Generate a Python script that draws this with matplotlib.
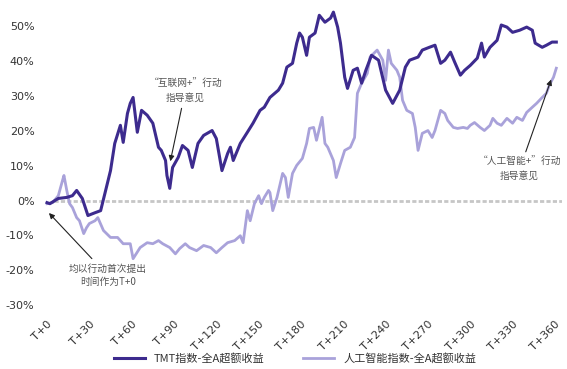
import matplotlib
matplotlib.use("Agg")
import matplotlib.pyplot as plt

plt.rcParams['font.family'] = ['Noto Sans CJK SC', 'DejaVu Sans']

# ---- data (days after T+0, excess return %) ----
tmt_days = [0, 2, 8, 14, 18, 21, 25, 29, 34, 38, 41, 45, 48, 52, 54, 57, 59, 61, 64, 67,
            71, 75, 79, 81, 84, 85, 87, 89, 93, 96, 100, 103, 107, 111, 117, 120, 124, 128,
            130, 132, 137, 142, 146, 151, 154, 158, 164, 167, 170, 174, 177, 179, 181, 184,
            186, 190, 193, 197, 201, 203, 206, 208, 211, 213, 217, 220, 223, 226, 230, 235,
            240, 245, 250, 254, 257, 263, 266, 271, 275, 279, 282, 286, 289, 293, 296, 300,
            305, 308, 310, 314, 319, 322, 326, 330, 335, 340, 344, 346, 351, 354, 358, 361]
tmt_vals = [-0.6, -0.9, 0.6, 0.9, 1.4, 2.9, 0.6, -4.3, -3.5, -2.9, 2.0, 8.6, 16.4, 21.6, 16.7,
            25.0, 27.9, 29.6, 19.6, 25.9, 24.5, 22.2, 15.3, 14.4, 11.5, 7.2, 3.5, 9.5, 12.4,
            15.8, 14.4, 9.5, 16.4, 18.7, 20.1, 17.8, 8.6, 13.5, 15.3, 11.5, 16.4, 19.6, 22.2,
            25.9, 26.8, 29.6, 31.7, 33.7, 38.3, 39.4, 45.2, 48.1, 46.9, 41.7, 46.9, 48.1, 53.2,
            51.2, 52.4, 54.1, 49.8, 45.2, 35.4, 32.2, 37.4, 38.0, 33.7, 37.4, 41.7, 40.3, 31.7,
            27.9, 31.7, 38.3, 40.3, 41.2, 43.2, 44.0, 44.6, 39.4, 40.3, 42.6, 39.7, 36.0, 37.4,
            38.8, 40.9, 45.2, 41.2, 44.0, 46.0, 50.4, 49.8, 48.3, 48.9, 49.8, 48.9, 45.2, 44.0,
            44.6, 45.5, 45.5]

ai_days = [0, 4, 8, 11, 12, 14, 16, 18, 21, 23, 26, 28, 30, 34, 36, 40, 45, 50, 54, 59, 61,
           66, 71, 75, 79, 82, 87, 91, 94, 98, 101, 106, 111, 116, 120, 124, 128, 133, 137,
           139, 142, 144, 147, 150, 152, 154, 157, 158, 160, 163, 167, 169, 171, 174, 177,
           181, 184, 186, 189, 191, 195, 197, 199, 203, 205, 208, 211, 215, 218, 220, 223,
           227, 229, 234, 238, 240, 242, 244, 248, 250, 252, 255, 259, 261, 263, 266, 270,
           273, 275, 279, 282, 284, 288, 291, 295, 298, 300, 303, 307, 310, 314, 316, 319,
           322, 326, 330, 333, 337, 340, 344, 347, 351, 354, 356, 359, 361]
ai_vals = [-0.9, -0.6, 1.4, 5.8, 7.2, 2.9, -0.9, -2.0, -4.9, -5.8, -9.5, -7.8, -6.6, -5.8,
           -4.9, -8.6, -10.6, -10.6, -12.4, -12.4, -16.7, -13.5, -12.1, -12.4, -11.5, -12.4,
           -13.5, -15.3, -13.8, -12.4, -13.5, -14.4, -12.9, -13.5, -15.0, -13.5, -12.1, -11.5,
           -10.1, -12.1, -2.9, -5.8, -0.9, 1.4, -0.9, 0.9, 2.9, 2.3, -2.9, 0.9, 7.8, 6.6, 0.9,
           7.8, 10.1, 12.1, 16.4, 20.7, 21.0, 17.3, 23.9, 16.4, 15.3, 11.5, 6.6, 10.6, 14.4,
           15.3, 18.1, 30.8, 33.7, 36.5, 41.2, 43.2, 40.3, 34.5, 43.2, 39.4, 37.4, 35.4, 28.8,
           25.9, 25.0, 21.0, 14.4, 19.3, 20.1, 18.1, 20.1, 25.9, 25.0, 23.0, 21.0, 20.7, 21.0,
           20.7, 21.6, 22.4, 21.0, 20.1, 21.6, 23.6, 22.2, 21.6, 23.6, 22.2, 23.9, 23.0, 25.3,
           26.8, 27.9, 29.6, 30.8, 33.1, 35.4, 38.0]

x_ticks = list(range(0, 361, 30))
x_labels = ["T+%d" % t for t in x_ticks]
y_ticks = [-30, -20, -10, 0, 10, 20, 30, 40, 50]
y_labels = ["%d%%" % v for v in y_ticks]

series_names = ["TMT指数-全A超额收益", "人工智能指数-全A超额收益"]
dark = "#3d2b8e"
light = "#a9a2da"

fig = plt.figure(figsize=(5.67, 3.69), dpi=100)
ax = fig.add_axes([0.0705, 0.1545, 0.9206, 0.840])

ax.hlines(0, 5, 366, colors="#c6c6c6", linestyles=(0, (1.5, 0.8)), lw=2.0, zorder=1)
ax.plot(ai_days, ai_vals, color=light, lw=2.0, label=series_names[1], zorder=2)
ax.plot(tmt_days, tmt_vals, color=dark, lw=2.2, label=series_names[0], zorder=3)

ax.set_xlim(-5, 365)
ax.set_ylim(-32, 57)
ax.set_xticks(x_ticks)
ax.set_xticklabels(x_labels, rotation=45, ha="right", rotation_mode="anchor",
                   fontsize=8, color="#333333", family=["DejaVu Sans"])
ax.set_yticks(y_ticks)
ax.set_yticklabels(y_labels, fontsize=8, color="#333333", family=["DejaVu Sans"])
ax.tick_params(axis="both", length=0)
ax.tick_params(axis="y", pad=4)
ax.tick_params(axis="x", pad=5)
for s in ax.spines.values():
    s.set_visible(False)

ann_kw = dict(fontsize=7, color="#555555", ha="center", va="center", linespacing=1.5)
arrow = dict(arrowstyle="-|>", color="#222222", lw=0.8, mutation_scale=8)

ax.annotate("“互联网+”行动\n指导意见", xy=(87, 10.5), xytext=(98, 31.5),
            arrowprops=arrow, **ann_kw)
ax.annotate("“人工智能+”行动\n指导意见", xy=(358, 35.5), xytext=(335, 9.0),
            arrowprops=arrow, **ann_kw)
ax.annotate("均以行动首次提出\n时间作为T+0", xy=(0, -3), xytext=(43, -21.5),
            arrowprops=arrow, **ann_kw)

leg = fig.legend(handles=ax.get_lines()[::-1], labels=series_names, loc="lower center",
                 bbox_to_anchor=(0.52, -0.012), ncol=2, frameon=False, fontsize=8,
                 handlelength=2.8, columnspacing=3.5)
for t in leg.get_texts():
    t.set_color("#333333")

fig.savefig("out.png", dpi=100)
